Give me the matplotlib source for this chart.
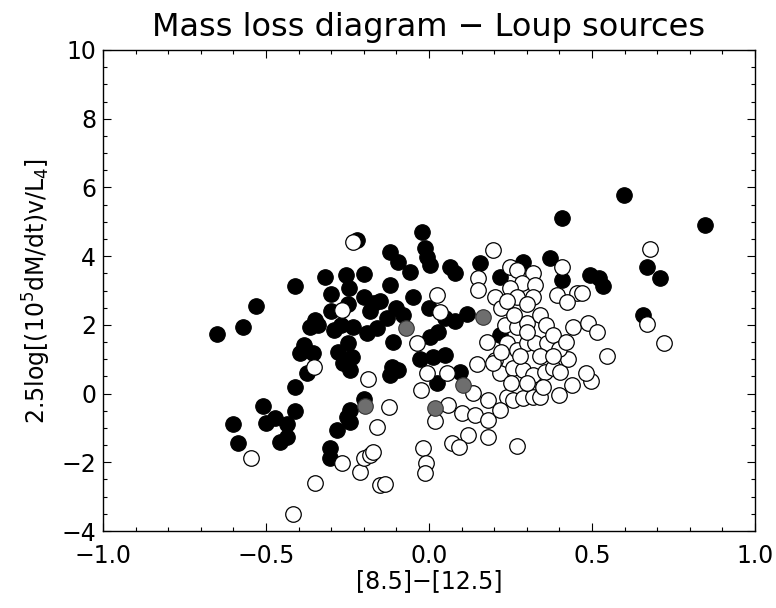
import matplotlib.pyplot as plt
import numpy as np

# Loup sources - mass loss diagram
# filled black circles
black_x = [-0.65, -0.57, -0.53, -0.41, -0.255, -0.20, -0.244, -0.35, -0.20, -0.17,
           -0.365, -0.34, -0.29, -0.233, -0.19, -0.16, -0.383, -0.396, -0.357, -0.375,
           -0.411, -0.508, -0.472, -0.50, -0.411, -0.435, -0.437, -0.457, -0.60, -0.585,
           -0.278, -0.248, -0.237, -0.263, -0.242, -0.198, -0.242, -0.252, -0.242, -0.283,
           -0.304, -0.304, -0.109, -0.114, -0.12, -0.094, 0.003, 0.029, -0.028, 0.013,
           0.049, 0.024, 0.095, -0.022, -0.012, -0.12, -0.094, -0.007, 0.003, 0.064,
           0.08, -0.058, 0.156, 0.407, 0.289, 0.371, 0.407, -0.12, 0.218, 0.115,
           0.599, 0.847, 0.668, 0.709, 0.494, 0.52, 0.535, 0.655, 0.218, -0.222,
           -0.30, -0.25, -0.15, -0.10, -0.05, -0.08, 0.00, 0.05, -0.13, -0.18,
           0.08, -0.30, -0.27, -0.32]
black_y = [1.73, 1.95, 2.55, 3.14, 3.45, 3.47, 3.06, 2.14, 2.82, 2.63,
           1.93, 2.00, 1.85, 1.94, 1.75, 1.90, 1.41, 1.17, 1.17, 0.59,
           0.20, -0.36, -0.72, -0.87, -0.50, -0.89, -1.26, -1.40, -0.89, -1.45,
           1.22, 1.46, 1.07, 0.88, 0.69, -0.16, -0.48, -0.67, -0.82, -1.06,
           -1.59, -1.88, 1.51, 0.78, 0.54, 0.69, 1.66, 1.80, 1.02, 1.07,
           1.12, 0.30, 0.64, 4.71, 4.23, 4.13, 3.84, 3.98, 3.74, 3.69,
           3.50, 3.55, 3.79, 5.10, 3.84, 3.94, 3.30, 3.16, 3.40, 2.33,
           5.78, 4.91, 3.69, 3.37, 3.45, 3.35, 3.13, 2.30, 1.70, 4.47,
           2.90, 2.60, 2.70, 2.50, 2.80, 2.30, 2.50, 2.20, 2.20, 2.40,
           2.10, 2.40, 2.00, 3.40]

# open circles
open_x = [-0.232, -0.268, -0.353, -0.546, -0.186, -0.266, -0.212, -0.20, -0.181, -0.171,
          -0.16, -0.35, -0.416, -0.15, -0.038, -0.007, 0.054, -0.026, -0.122, 0.018,
          0.059, 0.10, 0.141, 0.134, 0.182, 0.182, 0.121, 0.07, 0.092, 0.182,
          -0.017, -0.009, -0.012, -0.135, 0.269, 0.146, 0.177, 0.202, 0.218, 0.238,
          0.259, 0.218, 0.289, 0.32, 0.34, 0.238, 0.269, 0.30, 0.325, 0.259,
          0.289, 0.32, 0.356, 0.381, 0.402, 0.427, 0.438, 0.443, 0.361, 0.233,
          0.269, 0.30, 0.197, 0.197, 0.407, 0.453, 0.392, 0.248, 0.269, 0.32,
          0.151, 0.284, 0.325, 0.151, 0.248, 0.202, 0.269, 0.32, 0.034, 0.023,
          0.422, 0.678, 0.468, 0.668, 0.489, 0.514, 0.722, 0.497, 0.546, 0.48,
          0.22, 0.26, 0.30, 0.34, 0.36, 0.38, 0.40, 0.42, 0.30, 0.24,
          0.28, 0.34, 0.38, 0.22, 0.25, 0.30, 0.35, 0.40]
open_y = [4.42, 2.43, 0.76, -1.88, 0.42, -2.01, -2.29, -1.88, -1.79, -1.69,
          -0.96, -2.59, -3.49, -2.66, 1.48, 0.59, 0.61, 0.10, -0.40, -0.79,
          -0.33, -0.56, -0.62, 0.01, -0.19, -0.77, -1.21, -1.43, -1.56, -1.26,
          -1.59, -2.03, -2.30, -2.63, -1.53, 0.86, 1.51, 0.98, 0.59, -0.09,
          -0.19, -0.48, -0.14, -0.09, -0.09, 1.46, 1.27, 1.46, 1.46, 0.74,
          0.69, 0.54, 0.64, 0.74, 0.64, 1.02, 0.25, 1.95, 1.46, 2.00,
          1.95, 2.04, 0.88, 4.18, 3.69, 2.92, 2.87, 3.69, 3.60, 3.50,
          3.35, 3.21, 3.16, 3.01, 3.06, 2.82, 2.82, 2.82, 2.38, 2.87,
          2.67, 4.20, 2.92, 2.02, 2.06, 1.80, 1.48, 0.37, 1.09, 0.59,
          2.50, 2.30, 2.60, 2.30, 2.00, 1.70, 1.30, 1.50, 1.80, 2.70,
          1.10, 1.10, 1.10, 1.20, 0.30, 0.30, 0.20, -0.05]

# grey circles
grey_x = [-0.07, 0.167, -0.196, 0.103, 0.018]
grey_y = [1.90, 2.24, -0.36, 0.25, -0.41]

fig = plt.figure(figsize=(7.76, 6.08), dpi=100)
ax = fig.add_axes([0.1327, 0.1266, 0.8403, 0.7912])

ms = 125
ax.scatter(black_x, black_y, s=ms, c='black', edgecolors='black', linewidths=0.8, zorder=2)
ax.scatter(open_x, open_y, s=ms, c='white', edgecolors='black', linewidths=0.9, zorder=3)
ax.scatter(grey_x, grey_y, s=ms, c='#6e6e6e', edgecolors='#333333', linewidths=0.8, zorder=4)

ax.set_xlim(-1, 1)
ax.set_ylim(-4, 10)
ax.set_xticks(np.arange(-1, 1.01, 0.5))
ax.set_xticks(np.arange(-1, 1.01, 0.1), minor=True)
ax.set_yticks(np.arange(-4, 10.01, 2))
ax.set_yticks(np.arange(-4, 10.01, 0.5), minor=True)
ax.set_xticklabels(['\u22121.0', '\u22120.5', '0.0', '0.5', '1.0'])
ax.tick_params(which='both', direction='in', top=True, right=True, labelsize=17, width=0.8)
ax.tick_params(which='major', length=6)
ax.tick_params(which='minor', length=3)
ax.tick_params(axis='x', which='major', pad=9)
ax.tick_params(axis='y', which='major', pad=5)
for s in ax.spines.values():
    s.set_linewidth(1.0)

ax.set_title('Mass loss diagram \u2212 Loup sources', fontsize=23, pad=10)
ax.set_xlabel('[8.5]\u2212[12.5]', fontsize=17, labelpad=1)
ax.set_ylabel(r'2.5log[(10$^5$dM/dt)v/L$_4$]', fontsize=17, labelpad=6)

plt.savefig('out.png', dpi=100)
